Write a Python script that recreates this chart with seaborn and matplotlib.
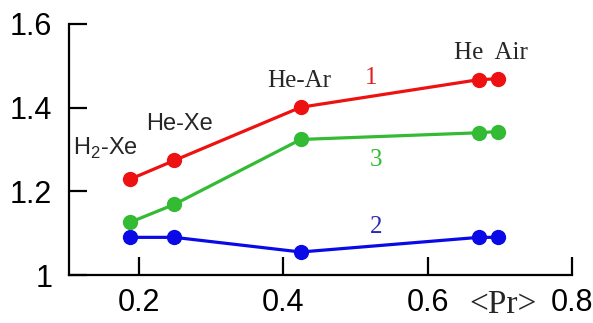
import matplotlib
matplotlib.use("Agg")
import matplotlib.pyplot as plt
import seaborn as sns
import pandas as pd

# data
pr = [0.1875, 0.249, 0.424, 0.671, 0.697]
curve1 = [1.229, 1.274, 1.401, 1.467, 1.469]
curve2 = [1.090, 1.090, 1.055, 1.090, 1.090]
curve3 = [1.126, 1.169, 1.324, 1.340, 1.343]
series_names = ["1", "2", "3"]
series_colors = {"1": "#ee1111", "2": "#0a0ae6", "3": "#33bb33"}

xticks = [0.2, 0.4, 0.6, 0.8]
yticks = [1.0, 1.2, 1.4, 1.6]
ytick_labels = ["1", "1.2", "1.4", "1.6"]

df = pd.DataFrame({
    "Pr": pr * 3,
    "val": curve1 + curve2 + curve3,
    "curve": [n for n in series_names for _ in pr],
})

sns.set_style("white")
plt.rcParams["font.family"] = ["Liberation Sans", "DejaVu Sans"]
plt.rcParams["mathtext.fontset"] = "custom"
plt.rcParams["mathtext.rm"] = "Liberation Sans"

fig = plt.figure(figsize=(5.93, 3.23), dpi=100)
ax = fig.add_axes([0.1164, 0.1486, 0.8482, 0.7771])

sns.lineplot(data=df, x="Pr", y="val", hue="curve", palette=series_colors,
             marker="o", markersize=11, markeredgewidth=0, linewidth=2.3,
             legend=False, ax=ax, clip_on=False)

ax.set_xlim(0.1028, 0.8)
ax.set_ylim(1.0, 1.6)
ax.set_xticks(xticks)
ax.set_xticklabels([f"{t:g}" for t in xticks])
ax.set_yticks(yticks)
ax.set_yticklabels(ytick_labels)
ax.set_xlabel("")
ax.set_ylabel("")
ax.tick_params(axis="both", direction="in", length=13, width=1.6,
               labelsize=22, colors="black", bottom=True, left=True)
ax.tick_params(axis="x", pad=9)
ax.tick_params(axis="y", pad=12)
for side in ["top", "right"]:
    ax.spines[side].set_visible(False)
for side in ["left", "bottom"]:
    ax.spines[side].set_linewidth(1.6)
    ax.spines[side].set_color("black")

# gas labels
ax.text(0.108, 1.302, r"H$_\mathregular{2}$-Xe", fontsize=17, va="center", ha="left")
ax.text(0.2097, 1.362, "He-Xe", fontsize=17, va="center", ha="left")
ax.text(0.378, 1.464, "He-Ar", fontsize=18, va="center", ha="left",
        family=["Liberation Serif"])
ax.text(0.636, 1.531, "He  Air", fontsize=18, va="center", ha="left",
        family=["Liberation Serif"])

# curve numbers
ax.text(0.521, 1.471, "1", fontsize=18, color="#dd2222", ha="center", va="center",
        family=["Liberation Serif"])
ax.text(0.528, 1.276, "3", fontsize=18, color="#33bb33", ha="center", va="center",
        family=["Liberation Serif"])
ax.text(0.529, 1.114, "2", fontsize=18, color="#2a2ab0", ha="center", va="center",
        family=["Liberation Serif"])

ax.text(0.704, 0.929, "<Pr>", fontsize=24, ha="center", va="center",
        family=["Liberation Serif"], clip_on=False)

fig.savefig("out.png", dpi=100)
